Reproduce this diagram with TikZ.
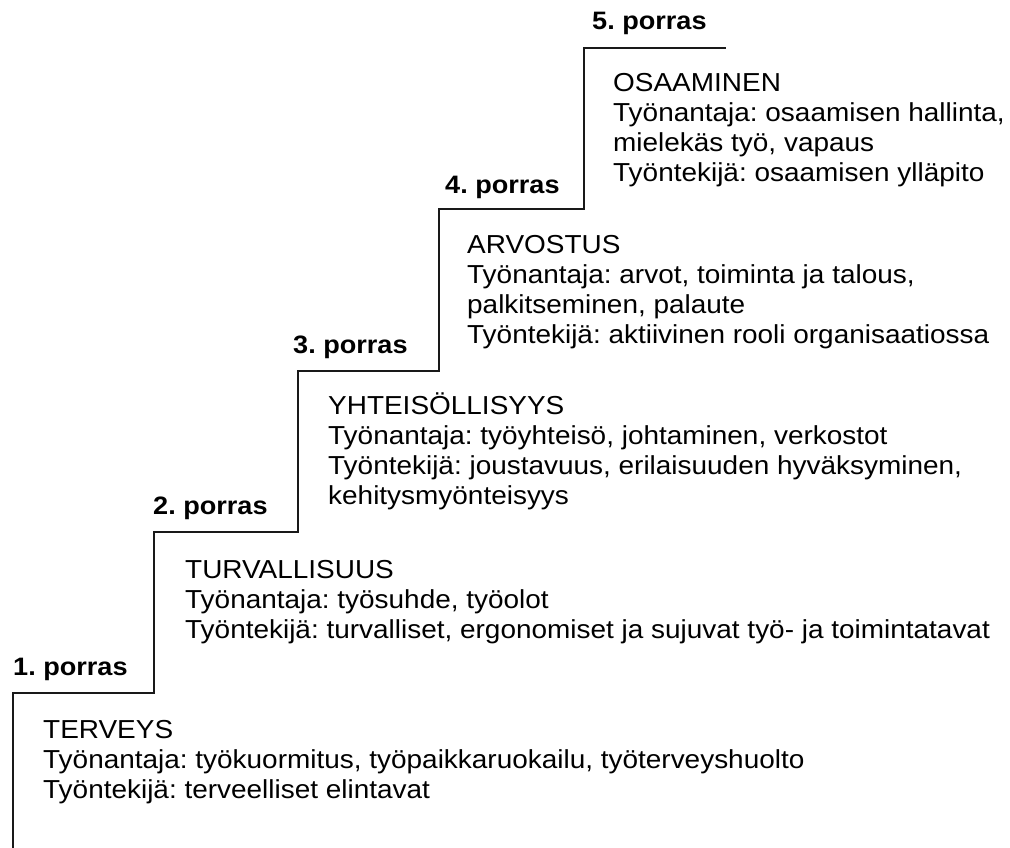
\documentclass[tikz,border=0pt]{standalone}
\usepackage{fontspec}
\setmainfont{Liberation Sans}[FakeStretch=1.075]
\frenchspacing
\begin{document}
\begin{tikzpicture}[x=1pt,y=-1pt,
  stair/.style={line width=2pt,draw=black!90,line join=miter},
  lvl/.style={anchor=base west,inner sep=0pt,font=\fontsize{25.2}{30}\selectfont\bfseries},
  body/.style={anchor=base west,inner sep=0pt,font=\fontsize{26}{30.3}\selectfont}]
\useasboundingbox (0,0) rectangle (1010,847);
\draw[stair] (13,848) -- (13,693) -- (154,693) -- (154,532) -- (298,532) -- (298,371)
  -- (439,371) -- (439,209) -- (584,209) -- (584,48) -- (726,48);
\node[lvl] (p1) at (13,675) {1. porras};
\node[lvl] (p2) at (153,514) {2. porras};
\node[lvl] (p3) at (293,353) {3. porras};
\node[lvl] (p4) at (445,193) {4. porras};
\node[lvl] (p5) at (592,29) {5. porras};
\node[body] (b1) at (43,738) {\vtop{\hbox{TERVEYS}\hbox{Työnantaja: työkuormitus, työpaikkaruokailu, työterveyshuolto}\hbox{Työntekijä: terveelliset elintavat}}};
\node[body] (b2) at (185,578) {\vtop{\hbox{TURVALLISUUS}\hbox{Työnantaja: työsuhde, työolot}\hbox{Työntekijä: turvalliset, ergonomiset ja sujuvat työ- ja toimintatavat}}};
\node[body] (b3) at (328,414) {\vtop{\hbox{YHTEISÖLLISYYS}\hbox{Työnantaja: työyhteisö, johtaminen, verkostot}\hbox{Työntekijä: joustavuus, erilaisuuden hyväksyminen,}\hbox{kehitysmyönteisyys}}};
\node[body] (b4) at (467,253) {\vtop{\hbox{ARVOSTUS}\hbox{Työnantaja: arvot, toiminta ja talous,}\hbox{palkitseminen, palaute}\hbox{Työntekijä: aktiivinen rooli organisaatiossa}}};
\node[body] (b5) at (613,91) {\vtop{\hbox{OSAAMINEN}\hbox{Työnantaja: osaamisen hallinta,}\hbox{mielekäs työ, vapaus}\hbox{Työntekijä: osaamisen ylläpito}}};
\end{tikzpicture}
\end{document}
